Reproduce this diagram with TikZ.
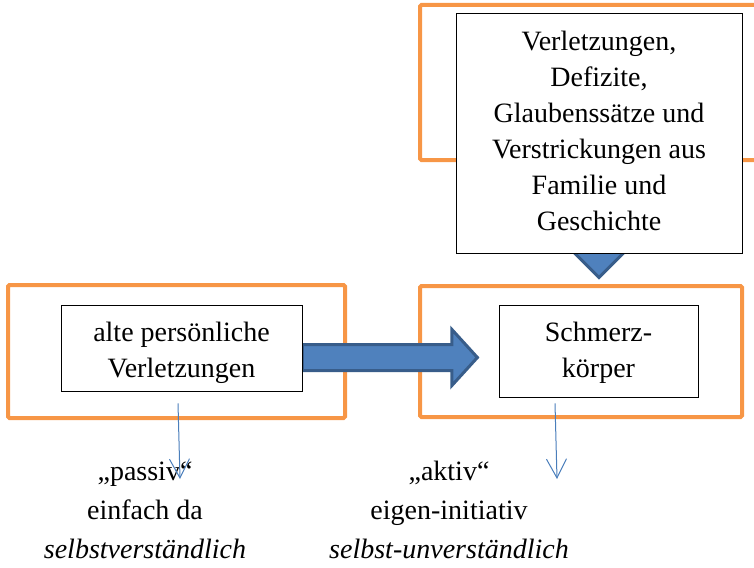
\documentclass[tikz,border=0pt]{standalone}
\usepackage{fontspec}
\setmainfont{Liberation Serif}
\usetikzlibrary{arrows.meta,backgrounds}
\definecolor{rahmenfarbe}{RGB}{247,150,70}
\definecolor{pfeilfarbe}{RGB}{79,129,189}
\definecolor{pfeilrand}{RGB}{56,93,138}
\definecolor{linienfarbe}{RGB}{74,126,187}
\begin{document}
\begin{tikzpicture}[x=1pt,y=-1pt,
		rahmen/.style={draw=rahmenfarbe,line width=4pt,rounded corners=1.5pt,inner sep=0pt},
		kasten/.style={draw,fill=white,line width=0.8pt,align=center,inner sep=0pt,font=\fontsize{28}{36}\selectfont},
		beschrift/.style={align=center,inner sep=0pt,anchor=base,font=\fontsize{28}{39}\selectfont},
		blockpfeil/.style={fill=pfeilfarbe,draw=pfeilrand,line width=3pt,line join=miter},
		duennpfeil/.style={draw=linienfarbe,line width=1pt,-{Straight Barb[length=19pt,width=20pt]}}]
			\clip (0,0) rectangle (754,567);
			\node[kasten,minimum width=286,text height=217pt,text depth=23pt] (quelle) at (599,133) {Verletzungen,\\Defizite,\\Glaubenssätze und\\Verstrickungen aus\\Familie und\\Geschichte};
			\node[kasten,minimum width=241,text height=72pt,text depth=14pt] (alte) at (181.5,348) {alte persönliche\\Verletzungen};
			\node[kasten,minimum width=199,text height=72pt,text depth=20pt] (schmerz) at (598.5,351) {Schmerz-\\körper};
			\begin{scope}[on background layer]
				\node[rahmen,minimum width=370,minimum height=155] (oben) at (605,82.5) {};
				\node[rahmen,minimum width=337,minimum height=133] (links) at (176.5,351.5) {};
				\node[rahmen,minimum width=322,minimum height=131] (rechts) at (581,351.5) {};
				\draw[blockpfeil] ([yshift=3.5pt]alte.east) -- ++(149.5,0) -- ++(0,-15) -- ++(25.5,28) -- ++(-25.5,28) -- ++(0,-15) -- ++(-149.5,0) -- cycle;
				\draw[blockpfeil] ([xshift=-13pt,yshift=20pt]quelle.south) -- ++(0,17) -- ++(-14,0) -- ++(27,27) -- ++(27,-27) -- ++(-14,0) -- ++(0,-17) -- cycle;
			\end{scope}
			\node[beschrift] (passiv) at (145,558) {„passiv“\\einfach da\\\textit{selbstverständlich}};
			\node[beschrift] (aktiv) at (449,558) {„aktiv“\\eigen-initiativ\\\textit{selbst-unverständlich}};
			\coordinate (passivziel) at (180,479);
			\coordinate (aktivziel) at (557,479);
			\draw[duennpfeil] ([xshift=-3.5pt,yshift=-12pt]alte.south) -- (passivziel);
			\draw[duennpfeil] ([xshift=-43.5pt,yshift=-6pt]schmerz.south) -- (aktivziel);
		\end{tikzpicture}
\end{document}
